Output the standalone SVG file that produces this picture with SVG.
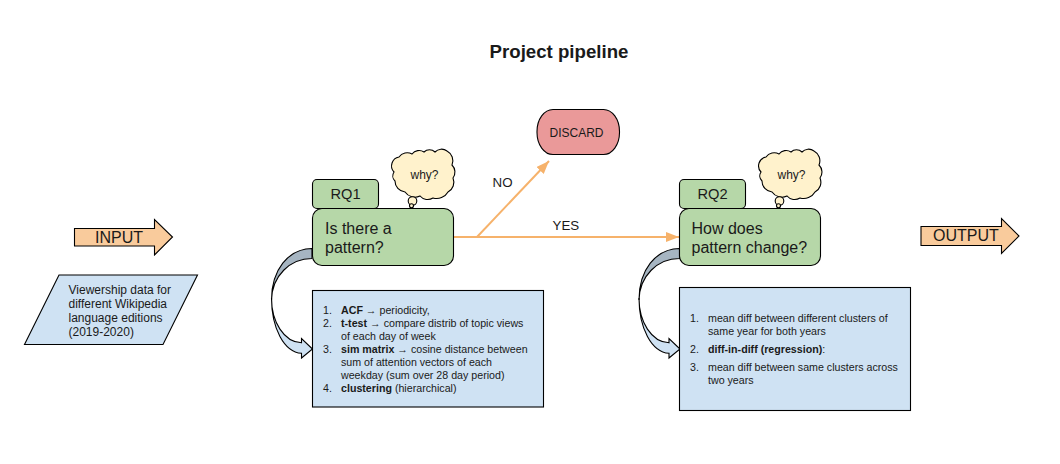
<svg xmlns="http://www.w3.org/2000/svg" width="1060" height="464" viewBox="0 0 1060 464">
<style>
text{font-family:"Liberation Sans",Arial,sans-serif;fill:#1a1a1a}
.s{stroke:#000;stroke-width:1.1}
.green{fill:#b6d7a8}.blue{fill:#cfe2f3}.orange{fill:#f9cb9c}
.t16{font-size:16px}.t15{font-size:14.67px}.t13{font-size:13.33px}.t12{font-size:12px}.t11{font-size:10.67px}
.b{font-weight:bold}
.mid{text-anchor:middle}
.conn{stroke:#f6b26b;stroke-width:2;fill:none}
</style>
<defs>
<marker id="head" markerUnits="userSpaceOnUse" markerWidth="14" markerHeight="10" refX="13" refY="5" orient="auto"><path d="M0 0L13 5L0 10Z" fill="#f6b26b"/></marker>
<g id="cloud">
<path class="s" fill="#fff2cc" d="M394 172A9 9 0 0 1 399 157A10 10 0 0 1 412 154A9 9 0 0 1 424 152A8 8 0 0 1 435 152A9 9 0 0 1 447 151A11 11 0 0 1 452 165A10 10 0 0 1 453 178A11 11 0 0 1 448 192A13 13 0 0 1 433 198A10 10 0 0 1 420 196A12 12 0 0 1 405 192A11 11 0 0 1 395 181A7 7 0 0 1 394 172Z"/>
<circle class="s" fill="#fff2cc" cx="412.500" cy="201" r="4.300"/>
<circle class="s" fill="#fff2cc" cx="411.500" cy="205.800" r="2"/>
<text class="t12 mid" x="424.500" y="179">why?</text>
</g>
<g id="curve">
<path class="s blue" d="M271.500 298C271.500 322 284 342 301.500 342.800L301.500 338.500L312.500 349L301.500 358L301.500 353.300C284 352 271.500 328 271.500 298Z"/>
<path class="s" fill="#a6b5c2" d="M312 248.500C288 249 271.500 270 271.500 300C272 276 290 258.500 312 258.500Z"/>
</g>
</defs>

<text class="b mid" x="559" y="58" font-size="18.67">Project pipeline</text>

<g id="connectors">
<path class="conn" d="M453.500 237H679" marker-end="url(#head)"/>
<path class="conn" d="M477 237L549 161" marker-end="url(#head)"/>
<use href="#curve"/>
<use href="#curve" x="367.500" y="0"/>
<text class="t13" x="492.500" y="186.500">NO</text>
<text class="t13" x="552.500" y="229.500">YES</text>
</g>

<g id="input">
<path class="s orange" d="M74.500 228.500H154.500V219.500L172.500 237L154.500 255V246H74.500Z"/>
<text class="t16" x="95" y="242.500">INPUT</text>
</g>

<g id="data">
<path class="s blue" d="M59 275H197.500L163 344.500H24.500Z"/>
<text class="t12" x="68.500" y="293.500">Viewership data for</text>
<text class="t12" x="68.500" y="307.500">different Wikipedia</text>
<text class="t12" x="68.500" y="321.500">language editions</text>
<text class="t12" x="68.500" y="335.500">(2019-2020)</text>
</g>

<g id="output">
<path class="s orange" d="M921 226.500H1001.500V218.500L1019 236L1001.500 253.500V245.500H921Z"/>
<text class="t16" x="933" y="241">OUTPUT</text>
</g>

<g id="discard">
<rect class="s" fill="#ea9999" x="537" y="109.500" width="82.500" height="45" rx="16" ry="22"/>
<text class="t12 mid" x="576.500" y="136.500">DISCARD</text>
</g>

<g id="rq1">
<rect class="s green" x="312.500" y="179.500" width="66" height="29" rx="4.500"/>
<text class="t15 mid" x="345.500" y="199">RQ1</text>
<rect class="s green" x="312.500" y="208.500" width="141" height="57" rx="9.500"/>
<text class="t16" x="325" y="234">Is there a</text>
<text class="t16" x="325" y="253">pattern?</text>
<use href="#cloud"/>
</g>

<g id="rq2">
<rect class="s green" x="679.500" y="179.500" width="66" height="29" rx="4.500"/>
<text class="t15 mid" x="712.500" y="199">RQ2</text>
<rect class="s green" x="679.500" y="208.500" width="141" height="57" rx="9.500"/>
<text class="t16" x="691.500" y="234">How does</text>
<text class="t16" x="691.500" y="253">pattern change?</text>
<use href="#cloud" x="367" y="0"/>
</g>

<g id="methods1">
<rect class="s blue" x="312.500" y="290.500" width="231" height="116.500"/>
<g class="t11">
<text x="323" y="314">1.</text><text x="341" y="314"><tspan class="b">ACF</tspan> → periodicity,</text>
<text x="323" y="327">2.</text><text x="341" y="327"><tspan class="b">t-test</tspan> → compare distrib of topic views</text>
<text x="341" y="340">of each day of week</text>
<text x="323" y="353">3.</text><text x="341" y="353"><tspan class="b">sim matrix</tspan> → cosine distance between</text>
<text x="341" y="366">sum of attention vectors of each</text>
<text x="341" y="379">weekday (sum over 28 day period)</text>
<text x="323" y="392">4.</text><text x="341" y="392"><tspan class="b">clustering</tspan> (hierarchical)</text>
</g>
</g>

<g id="methods2">
<rect class="s blue" x="679.500" y="287.500" width="231" height="123"/>
<g class="t11">
<text x="690" y="322">1.</text><text x="708" y="322">mean diff between different clusters of</text>
<text x="708" y="335">same year for both years</text>
<text x="690" y="353">2.</text><text x="708" y="353"><tspan class="b">diff-in-diff (regression)</tspan>:</text>
<text x="690" y="371">3.</text><text x="708" y="371">mean diff between same clusters across</text>
<text x="708" y="384">two years</text>
</g>
</g>
</svg>
